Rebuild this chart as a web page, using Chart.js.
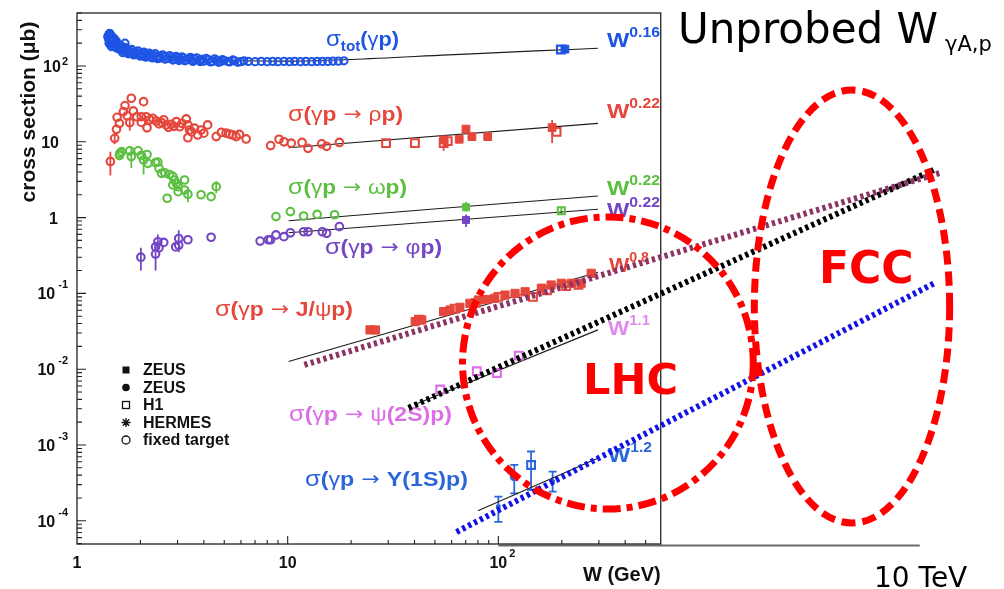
<!DOCTYPE html>
<html><head><meta charset="utf-8">
<script src="https://cdn.jsdelivr.net/npm/chart.js@4.4.1/dist/chart.umd.min.js"></script>
<style>html,body{margin:0;padding:0;background:#fff;}#wrap{width:1004px;height:589px;position:relative;}</style>
</head><body><div id="wrap"><canvas id="c"></canvas></div>
<script>
// ---------------- data (W in GeV, cross section in microbarn) ----------------
const sigTotFT = [[1.40,245],[1.41,228],[1.41,250],[1.42,262],[1.42,200],[1.43,215],[1.43,270],[1.44,238],[1.44,190],[1.45,205],[1.45,255],[1.46,226],[1.46,180],[1.47,196],[1.47,240],[1.48,214],[1.49,188],[1.50,205],[1.50,230],[1.51,180],[1.52,196],[1.52,220],[1.53,175],[1.54,210],[1.55,186],[1.56,170],[1.58,178],[1.60,165],[1.62,172],[1.62,185],[1.64,160],[1.65,150],[1.66,168],[1.68,157],[1.69,200],[1.70,163],[1.70,175],[1.72,152],[1.75,158],[1.75,145],[1.78,148],[1.80,155],[1.82,165],[1.84,150],[1.86,140],[1.88,143],[1.92,150],[1.95,158],[1.96,140],[2.00,146],[2.00,135],[2.05,137],[2.08,152],[2.10,143],[2.12,131],[2.15,135],[2.20,140],[2.20,148],[2.25,132],[2.28,128],[2.30,138],[2.35,145],[2.40,130],[2.42,125],[2.45,136],[2.50,128],[2.55,140],[2.60,133],[2.62,123],[2.70,126],[2.75,137],[2.80,131],[2.85,120],[2.90,124],[2.95,134],[3.00,129],[3.05,118],[3.10,122],[3.15,132],[3.20,127],[3.25,117],[3.30,120],[3.40,125],[3.45,130],[3.50,119],[3.55,115],[3.60,124],[3.70,128],[3.80,118],[3.85,114],[3.90,122],[4.00,116],[4.10,126],[4.20,121],[4.30,113],[4.40,115],[4.50,124],[4.60,119],[4.70,112],[4.80,114],[4.90,121],[5.00,118],[5.20,115],[5.30,113],[5.50,120],[5.60,117],[5.80,112],[6.00,114],[6.20,117],[6.50,115],[7.00,114],[7.50,115],[8.00,114],[8.50,115],[9.00,114],[9.60,115],[10.2,114],[10.8,115],[11.5,114],[12.2,115],[13.0,114],[13.8,115],[14.6,115],[15.5,115],[16.4,116],[17.4,116],[18.5,117]];
const sigTotZEUS = [[207,167]];
const sigTotH1 = [[198,165]];
const sigTotFit = [[1.75,151],[2.2,140],[3,130],[4.26,122],[6,117],[10,116],[20,122],[58,140],[150,158],[297,171]];

const rhoFT = [[1.44,5.5,3.6,7.4],[1.51,11.1,9.3,13],[1.54,14.6],[1.55,21],[1.59,17.5],[1.66,25],[1.69,30],[1.73,22],[1.78,17.9,14,21],[1.81,37.5],[1.85,25.5],[1.92,21.4],[2.02,21.4],[2.02,18],[2.07,33.8],[2.13,21.4],[2.15,15.3],[2.22,19.5],[2.29,20.4],[2.38,18.8],[2.45,17.2],[2.52,18],[2.58,19.5],[2.65,16.7],[2.72,15.5],[2.80,17],[2.88,16],[2.96,18.4],[3.07,15.8],[3.15,17.5],[3.30,20],[3.36,16.7],[3.42,14.3],[3.36,11.3],[3.50,13.5],[3.61,15.1],[3.74,12.3],[3.88,14.3],[4.00,13],[4.17,16.7],[4.58,11.7],[4.84,13.3],[5.10,13],[5.30,12.6],[5.48,12.3],[5.69,11.7],[5.90,12.5],[6.35,10.9],[8.3,8.9],[9.1,10.8],[9.6,10],[10.4,9.6],[11.7,9.8],[12.5,8.2],[14.5,9.4],[15.3,8.7],[17.6,9.8]];
const rhoH1 = [[29.3,9.6],[40.2,9.6],[55,9.6,7.6,11],[57.5,10.2],[189,13.5]];
const rhoZEUS = [[55,10.6],[65.2,10.8],[70.2,14.7],[74.9,11.7],[89,11.7],[180,15.4,9.6,19.4]];
const rhoFit = [[10.1,8.36],[297,17.5]];

const omegaFT = [[1.59,6.6],[1.60,7.05],[1.63,7.4],[1.78,7.6],[1.81,6.4,4.5,8.6],[1.95,7.6],[2.02,6.6],[2.07,5.75,3.7,7.4],[2.15,6.8],[2.17,5.2],[2.36,5.3],[2.42,5.4],[2.45,4.47],[2.52,3.84],[2.61,3.9],[2.68,1.8],[2.75,3.7],[2.85,3.5],[2.85,2.7],[2.90,3.13],[2.96,2.83],[3.02,2.56],[3.02,2.2],[3.24,3.13],[3.24,2.31],[3.36,2.03,1.6,2.5],[3.88,2.0],[4.33,1.89],[4.58,2.56,2.1,3.0],[8.8,1.03],[10.3,1.2],[11.9,1.05],[13.8,1.1],[16.7,1.09]];
const omegaZEUS = [[70.2,1.37,1.2,1.6]];
const omegaH1 = [[199,1.23,1.1,1.38]];
const omegaFit = [[10.1,0.91],[297,1.93]];

const phiFT = [[2.01,0.30,0.2,0.4],[2.36,0.33,0.2,0.48],[2.36,0.41],[2.42,0.48,0.36,0.6],[2.45,0.40],[2.58,0.47],[2.94,0.41],[3.04,0.53,0.35,0.68],[3.04,0.43],[3.36,0.51],[4.33,0.55],[7.4,0.49],[8.1,0.51],[8.3,0.51],[8.8,0.59],[9.6,0.56],[10.3,0.63],[11.9,0.65],[12.5,0.65],[14.6,0.65],[15.3,0.62],[17.6,0.76]];
const phiZEUS = [[70.2,0.93,0.75,1.1]];
const phiFit = [[10.1,0.63],[297,1.29]];

const jpsiZEUS = [[24.6,0.033],[26.1,0.0329],[40.3,0.0424],[43.3,0.0446],[55,0.0574],[59,0.0604],[65.7,0.0655],[73.3,0.074],[80.4,0.0818],[88,0.083],[96.2,0.086],[107.5,0.095],[120,0.1],[134,0.105],[160,0.117],[178,0.129],[199,0.136],[222,0.136],[247,0.136],[276,0.184]];
const jpsiH1 = [[42,0.045],[62,0.063],[78,0.075],[100,0.09],[146,0.09],[170,0.11],[210,0.125],[240,0.13]];
const jpsiFit = [[10.1,0.0126],[297,0.19]];

const psi2sH1 = [[53,0.0054],[79,0.0094],[98.5,0.0089],[125,0.0151]];
const psi2sFit = [[41,0.0035],[297,0.033]];

const upsZEUSc = [[119,3.8e-4,2.3e-4,5.45e-4]];
const upsH1 = [[143,5.45e-4,2.55e-4,8.2e-4]];
const upsOther = [[100,1.53e-4,9.7e-5,2.08e-4],[181,3.28e-4,2.42e-4,4.45e-4]];
const upsFit = [[80,1.36e-4],[300,6.8e-4]];

// extrapolations to the LHC / FCC range
const extJpsi = [[12.0,0.0114],[12400,3.87]];
const extPsi2s = [[37.5,0.00308],[11650,4.25]];
const extUps = [[63.3,7.1e-5],[11780,0.137]];

// reach regions: [W min, W max, sigma min, sigma max]
const lhcRegion = [67.6,1622,1.43e-4,1.02];
const fccRegion = [1641,13870,9.35e-5,48.2];

// axes
const xMin = 1, xMax = 23125, yMin = 4.94e-5, yMax = 500;
const frameWMax = 590, extendedWMin = 100, extendedWMax = 1e4;
const xMajor = [1,10,100];
const yMajor = [1e-4,1e-3,1e-2,1e-1,1,10,100];
const legendItems = ['ZEUS','ZEUS','H1','HERMES','fixed target'];

// ---------------- helpers ----------------
const C = {red:'#e5473d', green:'#5cbf40', purple:'#7446c4', blue:'#1f55e4', pink:'#dc6fe6', ublue:'#2b66d9'};
const LS = '"Liberation Sans", Arial, sans-serif';
const DV = '"DejaVu Sans", sans-serif';
function P(arr){return arr.map(p=>({x:p[0],y:p[1],lo:p[2],hi:p[3]}));}
function marks(label, arr, color, kind, size, extra){
  const open = kind==='oc'||kind==='os';
  const style = (kind==='oc'||kind==='fc') ? 'circle' : 'rect';
  return Object.assign({label, data:P(arr), showLine:false, order:2,
    pointStyle:style, pointRadius:size, pointHoverRadius:size,
    pointBorderWidth: open?2.1:1, pointBorderColor:color, borderColor:color,
    pointBackgroundColor: open?'rgba(255,255,255,0)':color}, extra||{});
}
function fit(label, arr){
  return {label, data:P(arr), showLine:true, order:3, borderColor:'#1c1c1c', borderWidth:1.1, pointRadius:0, pointHoverRadius:0, tension:0.4, cubicInterpolationMode:'monotone'};
}
function ext(label, arr, color){
  return {label, data:P(arr), showLine:true, order:0, borderColor:color, borderWidth:6, borderDash:[3.3,3.3], borderCapStyle:'butt', pointRadius:0, pointHoverRadius:0};
}
function rich(ctx, x, y, parts, color, targetW){
  ctx.save(); ctx.fillStyle=color; ctx.textAlign='left'; ctx.textBaseline='alphabetic';
  let w=0; for(const p of parts){ctx.font=(p[2]||'bold')+' '+p[1]+'px '+(p[4]||LS); w+=ctx.measureText(p[0]).width;}
  const s = targetW ? targetW/w : 1;
  ctx.translate(x,y); ctx.scale(s,1);
  let cx=0; for(const p of parts){ctx.font=(p[2]||'bold')+' '+p[1]+'px '+(p[4]||LS); ctx.fillText(p[0],cx,p[3]||0); cx+=ctx.measureText(p[0]).width;}
  ctx.restore();
}
function reaction(ctx,x,y,color,tail,w){
  const parts=[['σ',22,'normal'],['(',20,'bold'],['γ',20,'normal'],['p',20,'bold'],[' → ',19,'normal',-1,DV]].concat(tail);
  rich(ctx,x,y,parts,color,w);
}
function power(ctx,x,y,color,exp,w){rich(ctx,x,y,[['W',21,'bold'],[exp,14,'bold',-10]],color,w);}

const errorBars = {id:'errorBars', beforeDatasetsDraw(chart){
  const ctx=chart.ctx, ys=chart.scales.y;
  chart.data.datasets.forEach((ds,i)=>{
    const meta=chart.getDatasetMeta(i);
    ds.data.forEach((d,j)=>{
      if(d.lo===undefined) return;
      const el=meta.data[j]; const y1=ys.getPixelForValue(d.lo), y2=ys.getPixelForValue(d.hi);
      ctx.save(); ctx.strokeStyle=ds.borderColor; ctx.lineWidth=1.8;
      ctx.beginPath(); ctx.moveTo(el.x,y1); ctx.lineTo(el.x,y2);
      if(ds.caps){ctx.moveTo(el.x-4,y1);ctx.lineTo(el.x+4,y1);ctx.moveTo(el.x-4,y2);ctx.lineTo(el.x+4,y2);}
      ctx.stroke(); ctx.restore();
    });
  });
}};

const frameAndText = {id:'frameAndText', beforeDatasetsDraw(chart){
  const ctx=chart.ctx, xs=chart.scales.x, ys=chart.scales.y;
  const L=xs.getPixelForValue(xMin), R=xs.getPixelForValue(frameWMax), T=ys.getPixelForValue(yMax), B=ys.getPixelForValue(yMin);
  ctx.save();
  // extended axis
  ctx.strokeStyle='#6a6a6a'; ctx.lineWidth=2;
  ctx.beginPath(); ctx.moveTo(xs.getPixelForValue(extendedWMin),B+1.5); ctx.lineTo(xs.getPixelForValue(extendedWMax),B+1.5); ctx.stroke();
  // frame
  ctx.strokeStyle='#222'; ctx.lineWidth=1.3;
  ctx.strokeRect(L,T,R-L,B-T);
  // x ticks
  ctx.lineWidth=1.1; ctx.beginPath();
  for(let d=1; d<=100; d*=10){ for(let m=1;m<=9;m++){ const v=d*m; if(v>frameWMax) break; const px=xs.getPixelForValue(v); const len=(m===1)?8:4; if(v===1) continue; ctx.moveTo(px,B); ctx.lineTo(px,B-len);} }
  // y ticks
  for(let d=1e-5; d<=100*1.0001; d*=10){ for(let m=1;m<=9;m++){ const v=d*m; if(v<yMin||v>yMax) continue; const py=ys.getPixelForValue(v); const len=(m===1)?9:5; ctx.moveTo(L,py); ctx.lineTo(L+len,py);} }
  ctx.stroke();
  // y tick labels
  ctx.fillStyle='#111';
  yMajor.forEach(v=>{
    const e=Math.round(Math.log10(v)); const py=ys.getPixelForValue(v);
    ctx.font='bold 16px '+LS; ctx.textBaseline='alphabetic';
    if(e===0){ctx.textAlign='right'; ctx.fillText('1',58,py+6);}
    else if(e===1){ctx.textAlign='right'; ctx.fillText('10',59,py+6);}
    else { const es=(e<0?'-':'')+Math.abs(e); ctx.font='bold 11px '+LS; const ew=ctx.measureText(es).width; const xe=68-ew;
      ctx.textAlign='left'; ctx.fillText(es,xe,e>0?py-1:py-5);
      ctx.font='bold 16px '+LS; ctx.textAlign='right'; ctx.fillText('10',xe-(e>0?1:3),py+6); }
  });
  // x tick labels
  xMajor.forEach(v=>{
    const e=Math.round(Math.log10(v)); const px=xs.getPixelForValue(v);
    ctx.font='bold 16px '+LS; ctx.textAlign='center'; ctx.textBaseline='alphabetic';
    if(e===0) ctx.fillText('1',px,568);
    else if(e===1) ctx.fillText('10',px,568);
    else { ctx.fillText('10',px,568); ctx.font='bold 11px '+LS; ctx.textAlign='left'; ctx.fillText(String(e),px+11,557); }
  });
  // axis titles
  ctx.font='bold 20px '+LS; ctx.textAlign='right'; ctx.fillText('W (GeV)',R,581);
  ctx.save(); ctx.translate(35,112); ctx.rotate(-Math.PI/2); ctx.textAlign='center'; ctx.font='bold 21px '+LS; ctx.fillText('cross section (μb)',0,0); ctx.restore();
  // legend
  const lx=126;
  legendItems.forEach((t,i)=>{
    const ly=370+i*17.5;
    ctx.fillStyle='#111'; ctx.strokeStyle='#111'; ctx.lineWidth=1.3;
    if(i===0) ctx.fillRect(lx-3.5,ly-3.5,7,7);
    if(i===1){ctx.beginPath();ctx.arc(lx,ly,3.8,0,Math.PI*2);ctx.fill();}
    if(i===2) ctx.strokeRect(lx-3.5,ly-3.5,7,7);
    if(i===3){ctx.beginPath();for(let k=0;k<4;k++){const a=k*Math.PI/4;ctx.moveTo(lx-4.5*Math.cos(a),ly-4.5*Math.sin(a));ctx.lineTo(lx+4.5*Math.cos(a),ly+4.5*Math.sin(a));}ctx.stroke();}
    if(i===4){ctx.beginPath();ctx.arc(lx,ly,4,0,Math.PI*2);ctx.stroke();}
    ctx.font='bold 16px '+LS; ctx.textAlign='left'; ctx.textBaseline='middle'; ctx.fillText(t,lx+17,ly+1);
  });
  ctx.restore();
  // reaction labels
  rich(ctx,326,46,[['σ',22,'normal'],['tot',14,'bold',5],['(',20,'bold'],['γ',20,'normal'],['p)',20,'bold']],C.blue,73);
  reaction(ctx,288,121,C.red,[['ρ',20,'normal'],['p)',20,'bold']],115);
  reaction(ctx,288,194,C.green,[['ω',20,'normal'],['p)',20,'bold']],119);
  reaction(ctx,325,254,C.purple,[['φ',20,'normal'],['p)',20,'bold']],117);
  reaction(ctx,215,316,C.red,[['J/',20,'bold'],['ψ',20,'normal'],['p)',20,'bold']],138);
  reaction(ctx,289,421,C.pink,[['ψ',20,'normal'],['(2S)p)',20,'bold']],163);
  reaction(ctx,305,486,C.ublue,[['Υ(1S)p)',20,'bold']],163);
  power(ctx,607,47,C.blue,'0.16',53);
  power(ctx,607,118,C.red,'0.22',53);
  power(ctx,607,195,C.green,'0.22',53);
  power(ctx,607,217,C.purple,'0.22',53);
  power(ctx,609,272,C.red,'0.8',40);
  power(ctx,608,335,'#e08af0','1.1',42);
  power(ctx,608,462,C.ublue,'1.2',44);
}};

const regions = {id:'regions', afterDatasetsDraw(chart){
  const ctx=chart.ctx, xs=chart.scales.x, ys=chart.scales.y;
  function ell(r, dash, w){
    const x1=xs.getPixelForValue(r[0]), x2=xs.getPixelForValue(r[1]), y1=ys.getPixelForValue(r[3]), y2=ys.getPixelForValue(r[2]);
    ctx.save(); ctx.strokeStyle='#ff0000'; ctx.lineWidth=w; ctx.setLineDash(dash); ctx.lineCap='butt';
    ctx.beginPath(); ctx.ellipse((x1+x2)/2,(y1+y2)/2,(x2-x1)/2,(y2-y1)/2,0,0,Math.PI*2); ctx.stroke(); ctx.restore();
  }
  ell(lhcRegion,[18,6,6,6],7);
  ell(fccRegion,[14,7],7);
  ctx.save(); ctx.fillStyle='#ff0000'; ctx.textAlign='left'; ctx.textBaseline='alphabetic';
  ctx.font='bold 43px '+DV; ctx.fillText('LHC',583,394);
  ctx.font='bold 44px '+DV; ctx.fillText('FCC',819,283);
  ctx.fillStyle='#000'; ctx.font='42px '+DV; ctx.fillText('Unprobed W',678,43);
  ctx.font='21px '+DV; ctx.fillText('γA,p',945,51);
  ctx.font='28px '+DV; ctx.fillText('10 TeV',874,587);
  ctx.restore();
}};

const datasets = [
  ext('J/psi extrapolation', extJpsi, '#8c3363'),
  ext('psi(2S) extrapolation', extPsi2s, '#000000'),
  ext('Upsilon extrapolation', extUps, '#1212e6'),
  marks('tot fixed target', sigTotFT, C.blue, 'oc', 3.6),
  marks('tot ZEUS', sigTotZEUS, C.blue, 'fs', 5.5),
  marks('tot H1', sigTotH1, C.blue, 'os', 5.5),
  fit('tot fit', sigTotFit),
  marks('rho fixed target', rhoFT, C.red, 'oc', 3.8),
  marks('rho H1', rhoH1, C.red, 'os', 5.5),
  marks('rho ZEUS', rhoZEUS, C.red, 'fs', 5.5),
  fit('rho fit', rhoFit),
  marks('omega fixed target', omegaFT, C.green, 'oc', 3.8),
  marks('omega ZEUS', omegaZEUS, C.green, 'fs', 5),
  marks('omega H1', omegaH1, C.green, 'os', 5),
  fit('omega fit', omegaFit),
  marks('phi fixed target', phiFT, C.purple, 'oc', 3.8),
  marks('phi ZEUS', phiZEUS, C.purple, 'fs', 5),
  fit('phi fit', phiFit),
  marks('J/psi ZEUS', jpsiZEUS, C.red, 'fs', 5.8),
  marks('J/psi H1', jpsiH1, C.red, 'os', 5.5),
  fit('J/psi fit', jpsiFit),
  marks('psi(2S) H1', psi2sH1, C.pink, 'os', 5.5),
  fit('psi(2S) fit', psi2sFit),
  marks('Upsilon ZEUS', upsZEUSc, C.ublue, 'fc', 4, {caps:true}),
  marks('Upsilon H1', upsH1, C.ublue, 'os', 5.5, {caps:true}),
  marks('Upsilon', upsOther, C.ublue, 'fs', 2.5, {caps:true}),
  fit('Upsilon fit', upsFit)
];

new Chart(document.getElementById('c'), {
  type:'scatter',
  data:{datasets},
  options:{
    responsive:true, maintainAspectRatio:false, animation:false, devicePixelRatio:1,
    layout:{padding:{left:77,right:4,top:13,bottom:45}},
    plugins:{legend:{display:false}, tooltip:{enabled:false}},
    events:[],
    scales:{
      x:{type:'logarithmic', min:xMin, max:xMax, display:false, bounds:'data'},
      y:{type:'logarithmic', min:yMin, max:yMax, display:false, bounds:'data'}
    }
  },
  plugins:[frameAndText, errorBars, regions]
});
</script></body></html>
